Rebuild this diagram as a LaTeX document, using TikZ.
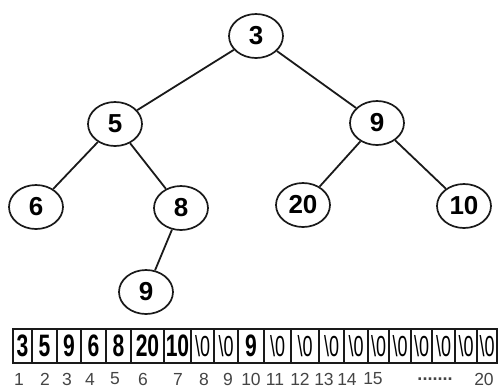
\documentclass[tikz,border=0pt]{standalone}
\usepackage{fontspec}
\usepackage{graphicx}
\setmainfont{Liberation Sans}
\usetikzlibrary{shapes.geometric}
\definecolor{ink}{HTML}{1A1A1A}
\definecolor{idx}{HTML}{444444}
\newcommand{\cellnum}[1]{\scalebox{0.68}[1]{\fontsize{31}{32}\selectfont\bfseries #1}}
\newcommand{\cellnul}{\scalebox{0.62}[1]{\fontsize{29}{30}\selectfont\textbackslash0}}
\begin{document}
\begin{tikzpicture}[x=1pt,y=-1pt,
  treenode/.style={ellipse,draw=ink,line width=1.7pt,minimum width=54pt,minimum height=44pt,inner sep=0pt,
    font=\fontsize{26}{28}\selectfont\bfseries},
  edge/.style={draw=ink,line width=1.8pt},
  cell/.style={draw=ink,line width=1.5pt,minimum height=34pt,inner sep=0pt,anchor=center},
  idxlabel/.style={text=idx,font=\fontsize{17.5}{18}\selectfont,inner sep=0pt}]
\useasboundingbox (0,0) rectangle (499,389);
% tree
\node[treenode] (n3) at (256,36) {3};
\node[treenode] (n5) at (115,124) {5};
\node[treenode] (n9a) at (377,123) {9};
\node[treenode] (n6) at (36,207) {6};
\node[treenode] (n8) at (181,208) {8};
\node[treenode] (n20) at (303,205) {20};
\node[treenode] (n10) at (464,206) {10};
\node[treenode] (n9b) at (146,292) {9};
\draw[edge] (n3) -- (n5);
\draw[edge] (n3) -- (n9a);
\draw[edge] (n5) -- (n6);
\draw[edge] (n5) -- (n8);
\draw[edge] (n8) -- (n9b);
\draw[edge] (n9a) -- (n20);
\draw[edge] (n9a) -- (n10);
% array
\def\xs{{13,32,57,81,106,131,164,191,214,238,264,291,319,344,368,389,411,432,455,477,497}}
\foreach \i/\t in {1/\cellnum{3},2/\cellnum{5},3/\cellnum{9},4/\cellnum{6},5/\cellnum{8},6/\cellnum{20},7/\cellnum{10},
  8/\cellnul,9/\cellnul,10/\cellnum{9},11/\cellnul,12/\cellnul,13/\cellnul,14/\cellnul,15/\cellnul,
  16/\cellnul,17/\cellnul,18/\cellnul,19/\cellnul,20/\cellnul}{
  \pgfmathsetmacro{\xa}{\xs[\i-1]}
  \pgfmathsetmacro{\xb}{\xs[\i]}
  \pgfmathsetmacro{\xc}{(\xa+\xb)/2}
  \pgfmathsetmacro{\w}{\xb-\xa}
  \node[cell,minimum width=\w pt] (c\i) at (\xc,346) {\t};
}
% indices
\foreach \i/\x in {1/19,2/45,3/67,4/90,5/115,6/143,7/178,8/204,9/228,10/251,11/275,12/300,13/324,14/347,15/373}{
  \node[idxlabel] (i\i) at (\x,379) {\i};
}
\node[idxlabel,font=\fontsize{18}{18}\selectfont\bfseries] (idots) at (435,379) {.......};
\node[idxlabel] (i20) at (484,379) {20};
\end{tikzpicture}
\end{document}
